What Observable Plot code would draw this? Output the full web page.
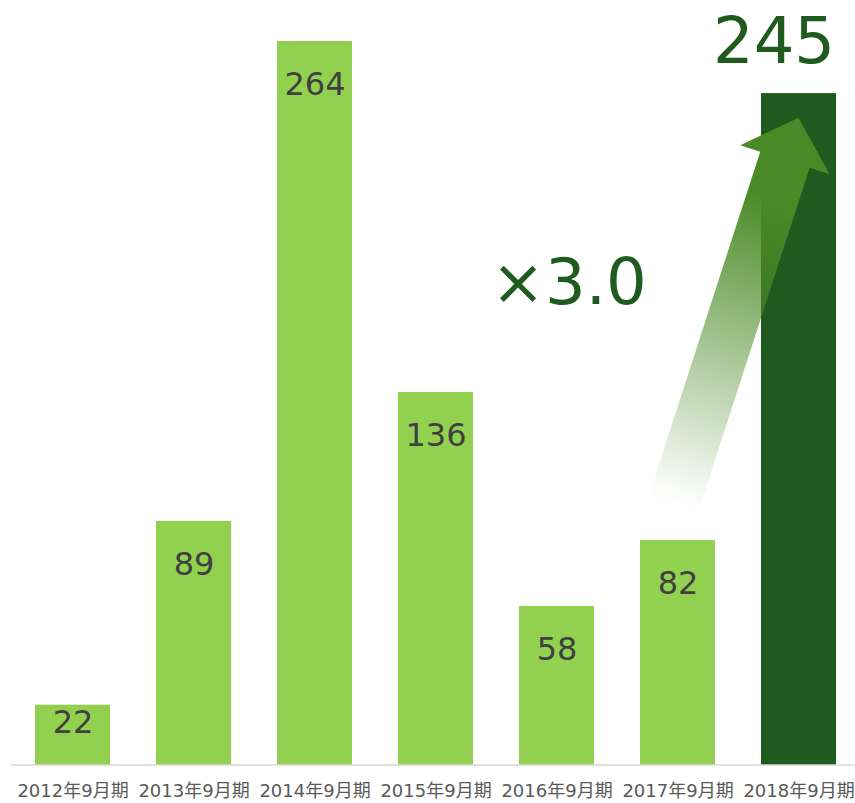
<!DOCTYPE html>
<html>
<head>
<meta charset="utf-8">
<script src="https://cdn.jsdelivr.net/npm/d3@7"></script>
<script src="https://cdn.jsdelivr.net/npm/@observablehq/plot@0.6"></script>
<style>
  html, body { margin: 0; padding: 0; background: #fff; }
  #chart svg { display: block; }
</style>
</head>
<body>
<div id="chart"></div>
<script>
const periods = ["2012年9月期", "2013年9月期", "2014年9月期", "2015年9月期", "2016年9月期", "2017年9月期", "2018年9月期"];
const values = [22, 89, 264, 136, 58, 82, 245];
const highlight = [false, false, false, false, false, false, true];
const growthLabel = "×3.0";
const arrowFrom = {period: "2017年9月期", value: 93};
const arrowTo = {period: "2018年9月期", value: 236};

const data = periods.map((p, i) => ({period: p, value: values[i], hl: highlight[i]}));
const normal = data.filter(d => !d.hl);
const tall = normal.filter(d => d.value >= 40);
const short = normal.filter(d => d.value < 40);
const hl = data.filter(d => d.hl);

const font = "'DejaVu Sans', 'Noto Sans CJK JP', sans-serif";
const lightGreen = "#92d050";
const darkGreen = "#1f5a1e";

const plot = Plot.plot({
  width: 855,
  height: 803,
  marginTop: 41,
  marginBottom: 38,
  marginLeft: 11,
  marginRight: 0,
  style: {fontFamily: font, background: "#fff"},
  x: {domain: periods, range: [10.8, 860.5], paddingInner: 0.3765, paddingOuter: 0.188, label: null},
  y: {domain: [0, 264], axis: null},
  marks: [
    Plot.barY(data, {x: "period", y: "value", fill: d => d.hl ? darkGreen : lightGreen}),
    Plot.ruleY([0], {stroke: "#d9d9d9", strokeWidth: 1.5, dy: -0.5}),
    Plot.axisX({tickSize: 0, tickPadding: 19, fontSize: 18, fill: "#595959", label: null}),
    Plot.text(tall, {x: "period", y: "value", text: d => String(d.value), dy: 43, fontSize: 32, fill: "#404040"}),
    Plot.text(short, {x: "period", y: "value", text: d => String(d.value), dy: 18, fontSize: 32, fill: "#404040"}),
    Plot.text(hl, {x: "period", y: "value", text: d => String(d.value), dy: -51, dx: -25, fontSize: 64, fill: darkGreen}),
    Plot.text([growthLabel], {x: () => "2017年9月期", y: () => 175.6, text: d => d, dx: -109, fontSize: 64, fill: darkGreen})
  ]
});

// Growth arrow, placed through the plot's own scales
const xs = plot.scale("x");
const ys = plot.scale("y");
const svg = d3.select(plot);
const bx = xs.apply(arrowFrom.period) + xs.bandwidth / 2 - 6;
const by = ys.apply(arrowFrom.value);
const tx = xs.apply(arrowTo.period) + xs.bandwidth / 2;
const ty = ys.apply(arrowTo.value);
const L = Math.hypot(tx - bx, ty - by);
const ux = (tx - bx) / L, uy = (ty - by) / L;
const nx = -uy, ny = ux;
const headLen = 44, headHalf = 47, shaftHalf = 26;
const P = (s, w) => [bx + s * ux + w * nx, by + s * uy + w * ny];
const pts = [
  P(0, -shaftHalf), P(L - headLen, -shaftHalf), P(L - headLen, -headHalf),
  P(L, 0), P(L - headLen, headHalf), P(L - headLen, shaftHalf), P(0, shaftHalf)
];
const defs = svg.append("defs");
const grad = defs.append("linearGradient")
  .attr("id", "arrowGrad")
  .attr("gradientUnits", "userSpaceOnUse")
  .attr("x1", bx).attr("y1", by).attr("x2", tx).attr("y2", ty);
grad.append("stop").attr("offset", 0).attr("stop-color", "#4a8a26").attr("stop-opacity", 0);
grad.append("stop").attr("offset", 0.05).attr("stop-color", "#4a8a26").attr("stop-opacity", 0.03);
grad.append("stop").attr("offset", 0.8).attr("stop-color", "#4a8a26").attr("stop-opacity", 1);
grad.append("stop").attr("offset", 1).attr("stop-color", "#4a8a26").attr("stop-opacity", 1);
svg.append("polygon")
  .attr("points", pts.map(p => p.join(",")).join(" "))
  .attr("fill", "url(#arrowGrad)");

document.getElementById("chart").appendChild(plot);
</script>
</body>
</html>
